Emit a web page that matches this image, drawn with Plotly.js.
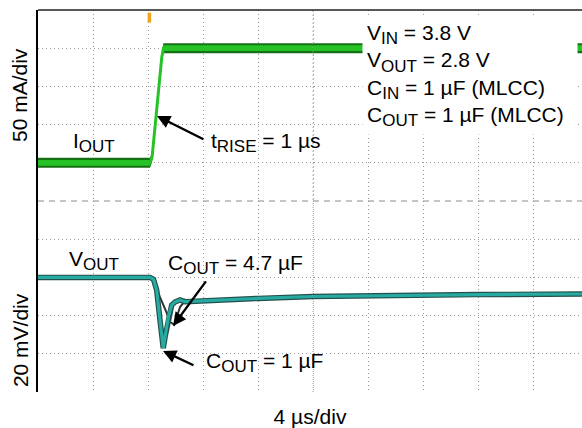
<!DOCTYPE html>
<html>
<head>
<meta charset="utf-8">
<script src="https://cdn.plot.ly/plotly-3.0.1.min.js"></script>
<style>html,body{margin:0;padding:0;background:#fff;}#chart{width:582px;height:428px;}</style>
</head>
<body>
<div id="chart"></div>
<script>
// ---- data read from the scope capture (time in µs) ----
const ioutTimeUs = [0, 8.15, 8.3, 9.0, 9.12, 39.6];
const ioutMA     = [50, 50, 58, 188, 200, 200];

const vout1uFTimeUs = [0, 8.15, 8.4, 8.63, 8.87, 9.04, 9.11, 9.24, 9.48, 9.72, 9.96, 10.2, 10.33, 10.7, 12, 16, 20, 26, 32, 39.6];
const vout1uFmV     = [0, 0, -1, -6.6, -22.3, -32.8, -37, -31.2, -20.7, -14.5, -12.9, -12.2, -11.8, -12.7, -12.2, -11, -10, -9.3, -9, -8.7];

const vout47uFTimeUs = [0, 8.15, 8.4, 8.87, 9.36, 9.6, 9.91, 10.09, 10.33, 10.62, 12, 16, 20, 26, 32, 39.6];
const vout47uFmV     = [0, 0, -1, -10.3, -18.6, -23.2, -24.9, -21.3, -15.5, -12.9, -12.2, -11, -10, -9.3, -9, -8.7];

const triggerTimeUs = 8.1;

// ---- styles ----
const FONT = 'Liberation Sans, Arial, Helvetica, sans-serif';
const FS = 21;
const sub = s => '<sub><span style="font-size:17px">' + s + '</span></sub>';

const conditionLines = [
  'V' + sub('IN') + ' = 3.8 V',
  'V' + sub('OUT') + ' = 2.8 V',
  'C' + sub('IN') + ' = 1 µF (MLCC)',
  'C' + sub('OUT') + ' = 1 µF (MLCC)'
];

const darkBandMA = 6.5;    // visual thickness of the noisy current trace
const coreBandMA = 3.8;
const green = '#27c227', greenDark = '#137013';
const teal = '#26aaa2', tealDark = '#24504c';

const band = (d) => [ioutMA.map(v => v - d), ioutMA.map(v => v + d)];
const [darkLo, darkHi] = band(darkBandMA);
const [coreLo, coreHi] = band(coreBandMA);

const traces = [
  {x: ioutTimeUs, y: darkLo, xaxis: 'x', yaxis: 'y', mode: 'lines', line: {width: 0, color: greenDark}, hoverinfo: 'skip'},
  {x: ioutTimeUs, y: darkHi, xaxis: 'x', yaxis: 'y', mode: 'lines', line: {width: 0, color: greenDark}, fill: 'tonexty', fillcolor: greenDark, hoverinfo: 'skip'},
  {x: ioutTimeUs, y: coreLo, xaxis: 'x', yaxis: 'y', mode: 'lines', line: {width: 0, color: green}, hoverinfo: 'skip'},
  {x: ioutTimeUs, y: coreHi, xaxis: 'x', yaxis: 'y', mode: 'lines', line: {width: 0, color: green}, fill: 'tonexty', fillcolor: green, hoverinfo: 'skip'},
  {x: ioutTimeUs, y: ioutMA, xaxis: 'x', yaxis: 'y', mode: 'lines', name: 'I_OUT', line: {width: 3, color: green}},
  {x: vout47uFTimeUs, y: vout47uFmV, xaxis: 'x', yaxis: 'y2', mode: 'lines', name: 'C_OUT = 4.7 µF', line: {width: 2, color: '#333'}},
  {x: vout1uFTimeUs, y: vout1uFmV, xaxis: 'x', yaxis: 'y2', mode: 'lines', line: {width: 5.5, color: tealDark}, hoverinfo: 'skip'},
  {x: vout1uFTimeUs, y: vout1uFmV, xaxis: 'x', yaxis: 'y2', mode: 'lines', name: 'C_OUT = 1 µF', line: {width: 3.2, color: teal}}
];

const gridDash = '1px,3px';
const gridColor = '#9a9a9a';

const layout = {
  width: 582, height: 428,
  margin: {l: 38, r: 0, t: 10, b: 36},
  paper_bgcolor: '#fff', plot_bgcolor: '#fff',
  showlegend: false,
  font: {family: FONT, size: FS, color: '#000'},
  xaxis: {
    range: [0, 39.56], dtick: 4, tick0: 0, anchor: 'y2',
    showgrid: true, gridcolor: gridColor, griddash: gridDash, gridwidth: 1,
    zeroline: false, showticklabels: false, ticks: '', showline: false,
    title: {text: '4 µs/div', font: {family: FONT, size: FS}, standoff: 19}
  },
  yaxis: {
    domain: [0.5, 1], range: [0, 250], dtick: 50, tick0: 0, anchor: 'x',
    showgrid: true, gridcolor: gridColor, griddash: gridDash, gridwidth: 1,
    zeroline: false, showticklabels: false, ticks: '',
    showline: true, linecolor: '#000', linewidth: 2
  },
  yaxis2: {
    domain: [0, 0.5], range: [-60, 40], dtick: 20, tick0: 0, anchor: 'x',
    showgrid: true, gridcolor: gridColor, griddash: gridDash, gridwidth: 1,
    zeroline: false, showticklabels: false, ticks: '',
    showline: true, linecolor: '#000', linewidth: 2
  },
  shapes: [
    {type: 'line', xref: 'paper', yref: 'paper', x0: 0, x1: 1, y0: 1, y1: 1, line: {color: '#222', width: 1.5}},
    {type: 'line', xref: 'paper', yref: 'paper', x0: 0, x1: 1, y0: 0.5, y1: 0.5, line: {color: '#8a8a8a', width: 1, dash: '6px,5px'}},
    {type: 'line', xref: 'x', yref: 'paper', x0: 20, x1: 20, y0: 0, y1: 1, line: {color: '#9a9a9a', width: 1, dash: '1px,3px'}},
    {type: 'rect', xref: 'x', yref: 'paper', x0: triggerTimeUs - 0.13, x1: triggerTimeUs + 0.13, y0: 0.967, y1: 0.993, fillcolor: '#f0a41e', line: {width: 0}}
  ],
  annotations: [
    // axis labels
    {xref: 'paper', yref: 'paper', x: -0.033, y: 0.7775, text: '50 mA/div', textangle: -90, showarrow: false, xanchor: 'center', yanchor: 'middle', font: {size: FS}},
    {xref: 'paper', yref: 'paper', x: -0.033, y: 0.136, text: '20 mV/div', textangle: -90, showarrow: false, xanchor: 'center', yanchor: 'middle', font: {size: FS}},
    // trace labels
    {xref: 'x', yref: 'y', x: 2.4, y: 76, text: 'I' + sub('OUT'), showarrow: false, xanchor: 'left', yanchor: 'middle'},
    {xref: 'x', yref: 'y', x: 12.4, y: 76, text: 't' + sub('RISE') + ' = 1 µs', showarrow: false, xanchor: 'left', yanchor: 'middle'},
    {xref: 'x', yref: 'y2', x: 2.11, y: 9, text: 'V' + sub('OUT'), showarrow: false, xanchor: 'left', yanchor: 'middle'},
    {xref: 'x', yref: 'y2', x: 9.3, y: 7, text: 'C' + sub('OUT') + ' = 4.7 µF', showarrow: false, xanchor: 'left', yanchor: 'middle'},
    {xref: 'x', yref: 'y2', x: 12.1, y: -44.8, text: 'C' + sub('OUT') + ' = 1 µF', showarrow: false, xanchor: 'left', yanchor: 'middle'},
    // conditions box
    {xref: 'x', yref: 'paper', x: 23.56, y: 0.985, text: conditionLines.join('<br>'), showarrow: false,
     xanchor: 'left', yanchor: 'top', align: 'left', bgcolor: '#fff', borderpad: 4, width: 206},
    // arrows
    {xref: 'x', yref: 'y', x: 8.65, y: 111.3, ax: 48, ay: 24, text: '', showarrow: true, arrowhead: 2, arrowsize: 1.1, arrowwidth: 2.4, arrowcolor: '#000'},
    {xref: 'x', yref: 'y2', x: 9.82, y: -25.4, ax: 34, ay: -46, text: '', showarrow: true, arrowhead: 2, arrowsize: 1.1, arrowwidth: 2.4, arrowcolor: '#000'},
    {xref: 'x', yref: 'y2', x: 9.09, y: -38.5, ax: 32, ay: 15, text: '', showarrow: true, arrowhead: 2, arrowsize: 1.1, arrowwidth: 2.4, arrowcolor: '#000'}
  ]
};

Plotly.newPlot('chart', traces, layout, {staticPlot: true, displayModeBar: false});
</script>
</body>
</html>
